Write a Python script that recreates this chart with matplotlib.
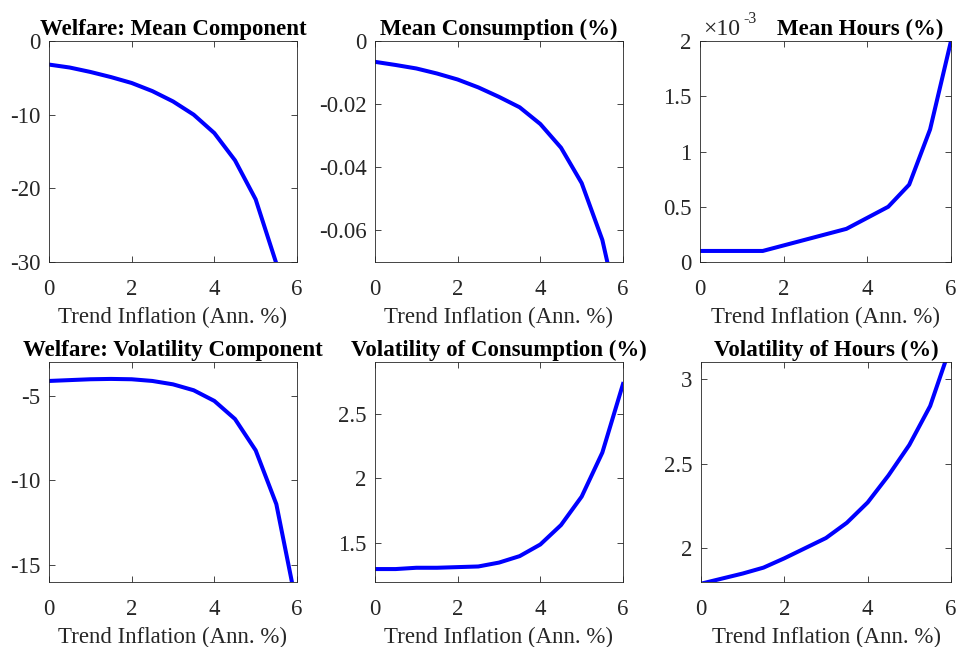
import matplotlib
matplotlib.use("Agg")
import matplotlib.pyplot as plt
from matplotlib.ticker import FuncFormatter

plt.rcParams['font.family'] = ['Liberation Serif', 'DejaVu Serif']
plt.rcParams['axes.unicode_minus'] = False

# inflacion tendencial (eje x comun)
infl = [0, 0.5, 1, 1.5, 2, 2.5, 3, 3.5, 4, 4.5, 5, 5.5, 6]

welfare_mean = [-3.2, -3.6, -4.2, -4.9, -5.7, -6.8, -8.2, -10.0, -12.5, -16.2, -21.5, -30.2, -47.0]
cons_mean = [-0.0066, -0.0076, -0.0087, -0.0103, -0.0122, -0.0147, -0.0177, -0.0210,
             -0.0263, -0.0338, -0.0450, -0.0630, -0.0920]
hours_mean = [0.0001, 0.0001, 0.0001, 0.0001, 0.00015, 0.0002, 0.00025, 0.0003,
              0.0004, 0.0005, 0.0007, 0.0012, 0.0020]
welfare_vol = [-4.12, -4.07, -4.02, -4.0, -4.02, -4.12, -4.32, -4.67, -5.3, -6.37, -8.22, -11.4, -17.5]
cons_vol = [1.30, 1.30, 1.31, 1.31, 1.315, 1.32, 1.35, 1.40, 1.49, 1.64, 1.86, 2.20, 2.73]
hours_vol = [1.79, 1.82, 1.85, 1.885, 1.94, 2.0, 2.06, 2.15, 2.27, 2.43, 2.61, 2.84, 3.20]

titulos = ["Welfare: Mean Component", "Mean Consumption (%)", "Mean Hours (%)",
           "Welfare: Volatility Component", "Volatility of Consumption (%)", "Volatility of Hours (%)"]
series = [welfare_mean, cons_mean, hours_mean, welfare_vol, cons_vol, hours_vol]
limites = [(-30, 0), (-0.07, 0), (0, 0.002), (-16, -3), (1.2, 2.9), (1.8, 3.1)]
yticks = [[-30, -20, -10, 0], [-0.06, -0.04, -0.02, 0], [0, 0.0005, 0.001, 0.0015, 0.002],
          [-15, -10, -5], [1.5, 2, 2.5], [2, 2.5, 3]]

W, H = 958, 647
# cajas en pixeles: izquierda, arriba, ancho, alto
cajas = [(49, 41, 248, 221), (375, 41, 248, 221), (700, 41, 251, 221),
         (49, 362, 248, 220), (375, 362, 248, 220), (701, 362, 250, 220)]

fig = plt.figure(figsize=(W / 100, H / 100), dpi=100)
gris = '#262626'
fs = 16.5

for i in range(6):
    l, t, w, h = cajas[i]
    ax = fig.add_axes([l / W, 1 - (t + h) / H, w / W, h / H])
    ax.plot(infl, series[i], color='#0000ff', lw=2.9)
    ax.set_xlim(0, 6)
    ax.set_ylim(*limites[i])
    ax.set_xticks([0, 2, 4, 6])
    ax.set_yticks(yticks[i])
    if i == 2:
        ax.yaxis.set_major_formatter(FuncFormatter(lambda v, p: f"{v * 1000:g}"))
        # factor de escala estilo MATLAB
        ax.annotate("\u00d710", xy=(0, 1), xycoords='axes fraction', xytext=(2, 4.3),
                    textcoords='offset points', fontsize=17, color=gris, va='baseline')
        ax.annotate("-3", xy=(0, 1), xycoords='axes fraction', xytext=(31, 13),
                    textcoords='offset points', fontsize=11.5, color=gris, va='baseline')
        ax.set_title(titulos[i], fontsize=fs, fontweight='bold', pad=4, x=0.64)
    else:
        ax.yaxis.set_major_formatter(FuncFormatter(lambda v, p: f"{v:g}"))
        ax.set_title(titulos[i], fontsize=fs, fontweight='bold', pad=4)
    ax.tick_params(direction='in', top=True, right=True, length=4, width=0.6,
                   labelsize=fs, colors=gris)
    ax.tick_params(axis='x', pad=12)
    ax.tick_params(axis='y', pad=6)
    for s in ax.spines.values():
        s.set_linewidth(0.6)
        s.set_color(gris)
    ax.set_xlabel("Trend Inflation (Ann. %)", fontsize=fs, color=gris, labelpad=5)

fig.savefig("out.png", dpi=100)
